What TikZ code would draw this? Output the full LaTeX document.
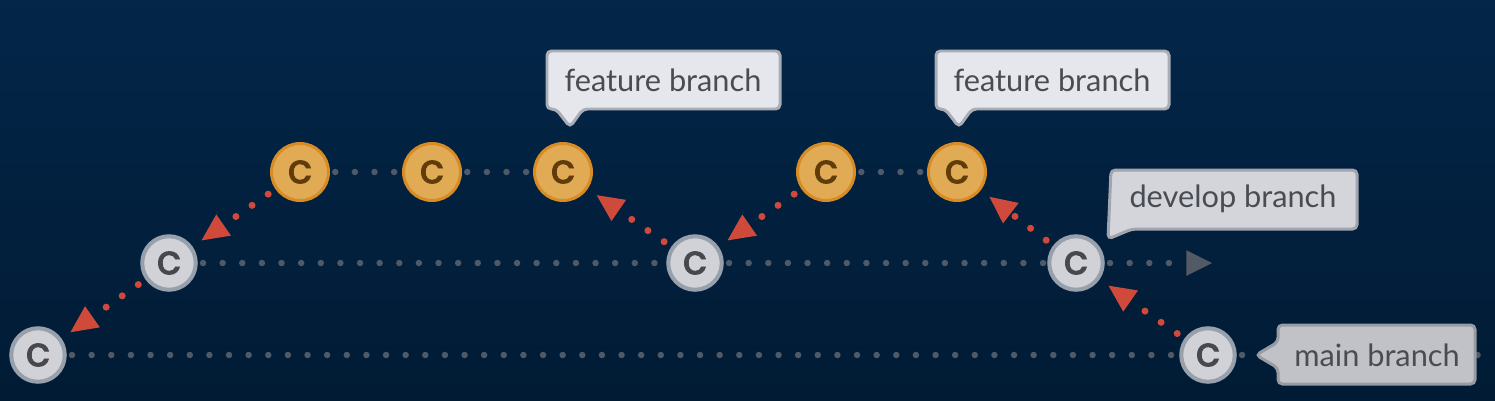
\documentclass[tikz,border=0pt]{standalone}
\usepackage{fontspec}
\setmainfont{Lato}
\newfontfamily\commitfont{Poppins}[FakeBold=2.2]
\usetikzlibrary{arrows.meta}

\definecolor{bgtop}{RGB}{3,38,73}
\definecolor{bgbottom}{RGB}{1,27,52}
\definecolor{dotgray}{RGB}{80,89,102}
\definecolor{arrowgray}{RGB}{83,90,102}
\definecolor{parentred}{RGB}{208,74,60}
\definecolor{commitfill}{RGB}{208,210,216}
\definecolor{commitline}{RGB}{152,160,172}
\definecolor{committext}{RGB}{70,72,78}
\definecolor{featfill}{RGB}{225,170,85}
\definecolor{featline}{RGB}{216,140,35}
\definecolor{feattext}{RGB}{95,60,10}
\definecolor{tagtext}{RGB}{74,76,84}

\begin{document}
\begin{tikzpicture}[x=0.02cm,y=-0.02cm,
        commit/.style={circle,draw=commitline,fill=commitfill,line width=2.3pt,minimum size=1.07cm,inner sep=0pt,
            text=committext,font=\commitfont\fontsize{23}{23}\selectfont},
        feature/.style={commit,draw=featline,fill=featfill,text=feattext,line width=1.7pt,minimum size=1.14cm},
        trunk/.style={dotgray,line width=3.7pt,dash pattern=on 0pt off 11.17pt,line cap=round,shorten <=3pt},
        parent/.style={parentred,line width=4pt,dash pattern=on 0pt off 11.17pt,line cap=round,shorten <=5pt,shorten >=6.2pt,
            -{Triangle[length=15.3pt,width=14.7pt,line width=0pt]}},
        bubble/.style={line width=1.7pt,rounded corners=2.5pt},
        tag/.style={text=tagtext,font=\fontsize{17.5}{17.5}\selectfont,inner sep=0pt}
    ]
        \useasboundingbox (0,0) rectangle (1495,400);
        \shade[top color=bgtop,bottom color=bgbottom] (0,0) rectangle (1495,400);

        \node[commit] (C1) at (38,355) {c};
        \node[commit] (C7) at (1208,355) {c};

        \node[commit] (D1) at (169,263) {c};
        \node[commit] (D2) at (695,263) {c};
        \node[commit] (D3) at (1076,263) {c};

        \node[feature] (F1) at (300,172) {c};
        \node[feature] (F2) at (432,172) {c};
        \node[feature] (F3) at (563,172) {c};
        \node[feature] (F4) at (826,172) {c};
        \node[feature] (F5) at (957,172) {c};

        \coordinate (mainend) at (1495,355);
        \coordinate (devend) at (1212,263);

        \draw[trunk] (C1) -- (C7);
        \draw[trunk] (C7) -- (mainend);
        \draw[trunk] (D1) -- (D2);
        \draw[trunk] (D2) -- (D3);
        \draw[trunk,arrowgray,-{Triangle[length=14.6pt,width=14.6pt,line width=0pt]}] (D3) -- (devend);
        \draw[trunk] (F1) -- (F2);
        \draw[trunk] (F2) -- (F3);
        \draw[trunk] (F4) -- (F5);

        \draw[parent] (D1) -- (C1);
        \draw[parent] (F1) -- (D1);
        \draw[parent] (D2) -- (F3);
        \draw[parent] (F4) -- (D2);
        \draw[parent] (D3) -- (F5);
        \draw[parent] (C7) -- (D3);

        \filldraw[bubble,draw={rgb,255:red,168;green,173;blue,182},fill={rgb,255:red,230;green,231;blue,237}]
            (547,51) -- (780,51) -- (780,109) -- (583,109) -- (570,127) -- (556,109) -- (547,109) -- cycle;
        \filldraw[bubble,draw={rgb,255:red,168;green,173;blue,182},fill={rgb,255:red,230;green,231;blue,237}]
            (936,51) -- (1169,51) -- (1169,109) -- (972,109) -- (959,127) -- (945,109) -- (936,109) -- cycle;
        \filldraw[bubble,draw={rgb,255:red,160;green,165;blue,174},fill={rgb,255:red,211;green,213;blue,219}]
            (1111,170) -- (1357,170) -- (1357,229) -- (1132,229) -- (1108,239) -- cycle;
        \filldraw[bubble,draw={rgb,255:red,150;green,155;blue,164},fill={rgb,255:red,192;green,194;blue,200}]
            (1278,325) -- (1475,325) -- (1475,384) -- (1278,384) -- (1278,368) -- (1256,355) -- (1278,342) -- cycle;

        \node[tag] (featA) at (663,80) {feature branch};
        \node[tag] (featB) at (1052,80) {feature branch};
        \node[tag] (dev) at (1233,199) {develop branch};
        \node[tag] (main) at (1377,355) {main branch};

    \end{tikzpicture}
\end{document}
